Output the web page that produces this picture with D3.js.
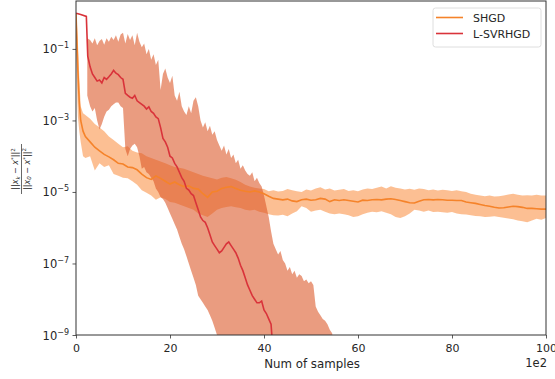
<!DOCTYPE html>
<html>
<head>
<meta charset="utf-8">
<script src="https://cdn.jsdelivr.net/npm/d3@7"></script>
<style>
  body { margin: 0; background: #fff; }
  text { font-family: "DejaVu Sans", sans-serif; fill: #262626; }
</style>
</head>
<body>
<svg id="chart" width="555" height="379"></svg>
<script>
// values are log10 of the relative error
var xTicks = [0, 20, 40, 60, 80, 100]
var yTickExp = [-1, -3, -5, -7, -9]
var seriesNames = ["SHGD", "L-SVRHGD"]

var shgdX = [0, 0.2, 0.4, 0.7, 1, 1.5].concat(d3.range(2, 101))
var shgdMean = [0, -0.8, -1.6, -2.5, -3.0, -3.3,
  -3.45, -3.6, -3.75, -3.85, -3.95, -4.02, -4.1, -4.2, -4.22, -4.3,
  -4.32, -4.38, -4.5, -4.6, -4.65, -4.55, -4.62, -4.7, -4.78, -4.72,
  -4.8, -4.85, -4.83, -4.9, -4.92, -5.05, -5.15, -5.0, -4.98, -4.9,
  -4.87, -4.85, -4.9, -4.95, -4.98, -5.0, -4.97, -5.0, -5.05, -5.12,
  -5.18, -5.2, -5.22, -5.2, -5.25, -5.27, -5.22, -5.2, -5.23, -5.22,
  -5.18, -5.2, -5.27, -5.22, -5.24, -5.22, -5.24, -5.26, -5.28, -5.23,
  -5.24, -5.22, -5.21, -5.22, -5.2, -5.19, -5.21, -5.24, -5.27, -5.3,
  -5.31, -5.26, -5.22, -5.21, -5.22, -5.21, -5.22, -5.23, -5.23, -5.24,
  -5.24, -5.28, -5.3, -5.32, -5.35, -5.38, -5.4, -5.43, -5.45, -5.44,
  -5.42, -5.4, -5.41, -5.43, -5.46, -5.46, -5.47, -5.48, -5.48]
var shgdHigh = [0, -0.3, -0.8, -1.8, -2.6, -2.8,
  -2.85, -2.95, -3.1, -3.2, -3.3, -3.45, -3.55, -3.65, -3.75, -3.72,
  -3.85, -3.9, -3.92, -4.0, -4.05, -4.1, -4.15, -4.2, -4.25, -4.3,
  -4.32, -4.35, -4.4, -4.45, -4.5, -4.55, -4.58, -4.62, -4.65, -4.6,
  -4.58, -4.62, -4.66, -4.72, -4.8, -4.85, -4.88, -4.9, -4.92, -4.98,
  -4.95, -4.99, -4.97, -4.92, -4.95, -4.98, -5.0, -4.93, -4.96, -4.9,
  -4.87, -4.93, -4.9, -4.96, -4.94, -4.92, -4.97, -4.95, -4.98, -4.93,
  -4.9, -4.92, -4.88, -4.85, -4.9, -4.84, -4.88, -4.9, -4.93, -4.91,
  -4.94, -4.9, -4.92, -4.95, -4.93, -4.96, -4.94, -4.95, -4.97, -4.95,
  -4.98, -5.0, -5.05, -5.08, -5.1, -5.12, -5.1, -5.13, -5.12, -5.1,
  -5.07, -5.05, -5.08, -5.1, -5.09, -5.1, -5.08, -5.1, -5.1]
var shgdLow = [-1.0, -2.0, -2.9, -3.3, -3.6, -4.0,
  -4.05, -4.0, -4.4, -4.2, -4.3, -4.25, -4.5, -4.55, -4.6, -4.62,
  -4.7, -4.8, -4.95, -5.02, -5.1, -5.22, -5.15, -5.2, -5.28, -5.3,
  -5.35, -5.4, -5.45, -5.5, -5.6, -5.65, -5.7, -5.6, -5.5, -5.45,
  -5.42, -5.4, -5.43, -5.45, -5.5, -5.52, -5.5, -5.55, -5.58, -5.62,
  -5.65, -5.66, -5.64, -5.68, -5.6, -5.54, -5.4, -5.45, -5.55, -5.52,
  -5.5, -5.55, -5.6, -5.62, -5.6, -5.62, -5.65, -5.7, -5.68, -5.62,
  -5.58, -5.55, -5.57, -5.54, -5.58, -5.62, -5.7, -5.73, -5.68, -5.6,
  -5.5, -5.52, -5.55, -5.52, -5.56, -5.55, -5.57, -5.58, -5.56, -5.6,
  -5.62, -5.63, -5.65, -5.67, -5.68, -5.7, -5.69, -5.68, -5.7, -5.72,
  -5.74, -5.76, -5.8, -5.82, -5.85, -5.8, -5.75, -5.78, -5.73]

var svrX = [0, 1, 2.2, 2.5].concat(d3.range(3, 42.5, 0.5))
var svrMean = [0, -0.04, -0.09, -1.2,
  -1.5, -1.7, -1.8, -1.9, -1.87, -1.95, -1.8, -1.85, -1.78, -1.7,
  -1.6, -1.68, -1.72, -1.8, -1.85, -2.24, -2.3, -2.35, -2.38, -2.3,
  -2.45, -2.5, -2.55, -2.6, -2.68, -2.62, -2.75, -2.8, -2.9, -2.95,
  -3.2, -3.5, -3.6, -3.75, -4.0, -4.05, -4.2, -4.3, -4.45, -4.6,
  -4.7, -4.9, -4.95, -5.05, -5.1, -5.3, -5.5, -5.7, -5.8, -5.85,
  -6.0, -6.2, -6.4, -6.5, -6.6, -6.7, -6.65, -6.55, -6.45, -6.4,
  -6.5, -6.6, -6.7, -6.85, -7.05, -7.2, -7.4, -7.6, -7.75, -7.9,
  -8.0, -8.1, -8.1, -8.05, -8.3, -8.4, -8.55, -8.7, -9.6]
var svrBandX = [2.4].concat(d3.range(3, 55.5, 0.5))
var svrHigh = [-0.7,
  -0.75, -0.85, -0.7, -0.9, -0.78, -0.72, -0.88, -0.7, -0.8, -0.66,
  -0.75, -0.62, -0.8, -0.6, -0.55, -0.85, -0.58, -0.75, -0.62, -0.9,
  -0.55, -0.8, -0.95, -0.85, -1.15, -1.0, -1.3, -1.15, -1.45, -1.3,
  -2.15, -1.7, -1.55, -1.8, -1.95, -1.75, -2.3, -2.45, -2.2, -2.6,
  -2.75, -2.85, -2.6, -2.8, -2.45, -2.35, -2.6, -3.0, -3.2, -3.05,
  -3.3, -3.15, -3.4, -3.3, -3.55, -3.7, -3.85, -3.7, -3.95, -3.8,
  -4.05, -3.95, -4.2, -4.1, -4.35, -4.25, -4.4, -4.5, -4.55, -4.45,
  -4.7, -4.6, -4.75, -4.85, -5.1, -5.4, -5.7, -6.1, -6.45, -6.6,
  -6.75, -6.65, -6.9, -7.0, -7.2, -7.1, -7.3, -7.2, -7.4, -7.3,
  -7.35, -7.5, -7.45, -7.55, -7.5, -7.6, -8.2, -8.35, -8.45, -8.55,
  -8.6, -8.7, -8.85, -8.95, -9.5]
// lower edge read up to x = 30.5, beyond that it is below the plotted range
var svrLow = [-2.3,
  -2.6, -2.75, -2.65, -3.0, -3.25, -3.1, -2.9, -2.75, -2.7, -2.6,
  -2.55, -2.5, -2.5, -2.6, -2.65, -3.8, -4.0, -3.8, -3.7, -3.65,
  -3.75, -4.0, -4.35, -4.3, -4.45, -4.5, -4.6, -4.7, -4.9, -5.0,
  -5.15, -5.2, -5.3, -5.45, -5.6, -5.75, -5.9, -6.05, -6.25, -6.45,
  -6.6, -6.8, -7.0, -7.2, -7.4, -7.6, -7.9, -8.0, -8.1, -8.2,
  -8.3, -8.45, -8.6, -8.8, -9.0, -9.3]

const margin = { top: 1, right: 9, bottom: 44, left: 76 }
const W = 555, H = 379
const svg = d3.select("#chart")
const x = d3.scaleLinear().domain([0, 100]).range([margin.left, W - margin.right])
const y = d3.scaleLog().domain([1e-9, Math.pow(10, 0.34)]).range([H - margin.bottom, margin.top])
const pow = v => Math.pow(10, v)
const floorExp = -10

const orangeLine = "#f5832a", orangeBand = "#f98a3b"
const redLine = "#d9333a", redBand = "#da5424"

svg.append("clipPath").attr("id", "plotclip").append("rect")
  .attr("x", margin.left).attr("y", margin.top)
  .attr("width", x(100) - margin.left).attr("height", H - margin.bottom - margin.top)

const plot = svg.append("g").attr("clip-path", "url(#plotclip)")

const band = d3.area().x(d => x(d[0])).y0(d => y(pow(d[1]))).y1(d => y(pow(d[2])))
const line = d3.line().x(d => x(d[0])).y(d => y(pow(d[1])))

plot.append("path").attr("d", band(shgdX.map((v, i) => [v, shgdLow[i], shgdHigh[i]])))
  .attr("fill", orangeBand).attr("fill-opacity", 0.55)
plot.append("path").attr("d", band(svrBandX.map((v, i) => [v, svrLow[i] ?? floorExp, svrHigh[i]])))
  .attr("fill", redBand).attr("fill-opacity", 0.58)
plot.append("path").attr("d", line(shgdX.map((v, i) => [v, shgdMean[i]])))
  .attr("fill", "none").attr("stroke", orangeLine).attr("stroke-width", 1.6)
plot.append("path").attr("d", line(svrX.map((v, i) => [v, svrMean[i]])))
  .attr("fill", "none").attr("stroke", redLine).attr("stroke-width", 1.6)

// axes
const gx = svg.append("g").attr("transform", "translate(0," + (H - margin.bottom) + ")")
  .call(d3.axisBottom(x).tickValues(xTicks).tickSize(3.5).tickPadding(5.5))
const gy = svg.append("g").attr("transform", "translate(" + margin.left + ",0)")
  .call(d3.axisLeft(y).tickValues(yTickExp.map(pow)).tickSize(3.5).tickPadding(3.5).tickFormat(""))
svg.selectAll(".domain").remove()
svg.selectAll(".tick line").attr("stroke", "#333").attr("stroke-width", 0.8)
gx.selectAll("text").attr("font-size", 11).style("font-family", "DejaVu Sans").attr("fill", "#262626")

gy.selectAll(".tick").each(function (d) {
  const t = d3.select(this).select("text").attr("font-size", 11.5).attr("dy", "0.35em")
    .style("font-family", "DejaVu Sans").attr("fill", "#262626")
  t.text("")
  t.append("tspan").text("10")
  t.append("tspan").attr("font-size", 8).attr("dy", -5).text("\u2212" + Math.round(-Math.log10(d)))
})

// frame
svg.append("rect").attr("x", margin.left).attr("y", margin.top)
  .attr("width", x(100) - margin.left).attr("height", H - margin.bottom - margin.top)
  .attr("fill", "none").attr("stroke", "#333").attr("stroke-width", 1)

svg.append("text").attr("x", (x(0) + x(100)) / 2 + 1).attr("y", 367.5).attr("text-anchor", "middle")
  .attr("font-size", 11.8).text("Num of samples")
svg.append("text").attr("x", x(100) + 1).attr("y", 367).attr("text-anchor", "end")
  .attr("font-size", 11.5).text("1e2")

// y label: fraction ||x_k - x*||^2 / ||x_0 - x*||^2
const yl = svg.append("g").attr("transform", "translate(21.5,169) rotate(-90)")
function normText(sel, sub) {
  sel.append("tspan").text("||")
  sel.append("tspan").attr("font-style", "italic").text("x")
  sel.append("tspan").attr("font-size", 5.5).attr("dy", 1.8).attr("font-style", "italic").text(sub)
  sel.append("tspan").attr("dy", -1.8).text(" \u2212 ")
  sel.append("tspan").attr("font-style", "italic").text("x")
  sel.append("tspan").attr("font-size", 5.5).attr("dy", -3).text("*")
  sel.append("tspan").attr("dy", 3).text("||")
  sel.append("tspan").attr("font-size", 5.5).attr("dy", -3.5).text("2")
}
normText(yl.append("text").attr("x", 0).attr("y", -3.5).attr("text-anchor", "middle").attr("font-size", 8), "k")
normText(yl.append("text").attr("x", 0).attr("y", 8).attr("text-anchor", "middle").attr("font-size", 8), "0")
yl.append("line").attr("x1", -25).attr("x2", 25).attr("y1", 0).attr("y2", 0)
  .attr("stroke", "#262626").attr("stroke-width", 0.7)

// legend
const lg = svg.append("g")
lg.append("rect").attr("x", 433).attr("y", 8).attr("width", 108).attr("height", 39).attr("rx", 2.5)
  .attr("fill", "#fff").attr("fill-opacity", 0.8).attr("stroke", "#d5d5d5").attr("stroke-width", 0.8)
const legendColors = [orangeLine, redLine]
seriesNames.forEach((name, i) => {
  const ly = 17.5 + i * 16
  lg.append("line").attr("x1", 436).attr("x2", 463).attr("y1", ly).attr("y2", ly)
    .attr("stroke", legendColors[i]).attr("stroke-width", 1.6)
  lg.append("text").attr("x", 473).attr("y", ly + 4).attr("font-size", 11).text(name)
})
</script>
</body>
</html>
